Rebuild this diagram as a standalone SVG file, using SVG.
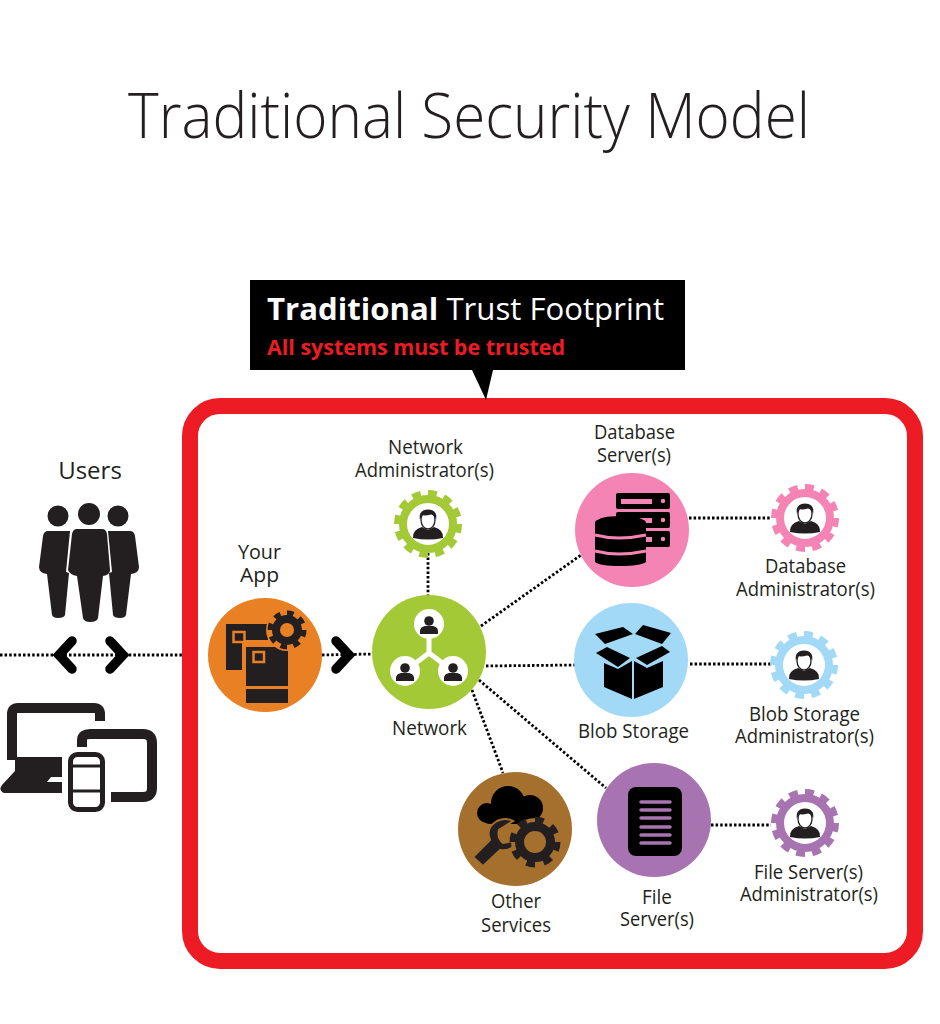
<svg xmlns="http://www.w3.org/2000/svg" width="940" height="1024" viewBox="0 0 940 1024">
<style>
text{font-family:"Open Sans","Noto Sans","Liberation Sans",sans-serif;fill:#231f20}
.l{font-size:20px;text-anchor:middle}
.c{fill:none;stroke:#000;stroke-width:2.800;stroke-dasharray:2.500 2.100}
.ch{fill:none;stroke:#000;stroke-width:9.500;stroke-linecap:round;stroke-linejoin:miter}
.k{fill:#231f20}
.b{fill:#000}
</style>
<defs>
<g id="gear"><circle r="25" fill="#fff" stroke="currentColor" stroke-width="8"/><circle r="31" fill="none" stroke="currentColor" stroke-width="6" pathLength="120" stroke-dasharray="5.500 4.500"/></g>
<g id="admin"><path class="k" d="M-15,14Q-16,6-6,3L0,6L6,3Q16,6 15,14Q0,17-15,14Z"/><ellipse cy="-4" rx="7" ry="9" fill="#fff" stroke="#231f20" stroke-width="1.300"/><path class="k" d="M-8,-4Q-10,-14 0,-14.500Q10,-14 8,-4Q7,-9 3,-9.500Q-3,-8-6,-9Q-7,-7-8,-4Z"/></g>
<g id="mini"><circle cy="-5" r="4.800" class="k"/><path class="k" d="M-9,8V5Q-9,1-4,0H4Q9,1 9,5V8Z"/></g>
<g id="bk"><circle r="11" fill="none" stroke="currentColor" stroke-width="8"/><circle r="17" fill="none" stroke="currentColor" stroke-width="5" pathLength="80" stroke-dasharray="5 5"/></g>
</defs>
<text id="title" x="469" y="138" font-size="62" font-weight="300" text-anchor="middle" textLength="682" lengthAdjust="spacingAndGlyphs">Traditional Security Model</text>
<g id="trust-boundary"><rect x="190" y="406" width="725" height="555" rx="30" fill="#fff" stroke="#ed1c24" stroke-width="16"/></g>
<g id="callout"><path d="M250,280H685V370H493L486,400L472,370H250Z" fill="#000"/>
<text x="267" y="320" font-size="31" style="fill:#fff" textLength="397" lengthAdjust="spacingAndGlyphs"><tspan font-weight="700" style="fill:#fff">Traditional</tspan> Trust Footprint</text>
<text x="267" y="355" font-size="22" font-weight="700" style="fill:#ed1c24" textLength="298" lengthAdjust="spacingAndGlyphs">All systems must be trusted</text></g>
<g id="connectors">
<path class="c" d="M0,655H182"/><path class="c" d="M322,655L372,654"/><path class="c" d="M428,553V596"/><path class="c" d="M481,626L581,555"/><path class="c" d="M486,666L575,665"/><path class="c" d="M479,680L606,788"/><path class="c" d="M472,690L503,773"/><path class="c" d="M689,518H771"/><path class="c" d="M690,664H771"/><path class="c" d="M711,825H771"/>
</g>
<g id="users"><text class="l" x="90" y="479" style="font-size:24px">Users</text>
<circle class="k" cx="58" cy="516" r="10.500"/><circle class="k" cx="89" cy="514" r="11"/><circle class="k" cx="118" cy="516" r="10.500"/>
<path class="k" d="M48,531H70L66,572L69,573L65,615Q64,618 58,618Q53,618 52,615L47,574Q39,573 39,567L43,536Q44,531 48,531Z"/>
<path class="k" d="M130,531H108L112,572L109,573L113,615Q114,618 120,618Q125,618 126,615L131,574Q139,573 139,567L135,536Q134,531 130,531Z"/>
<path class="k" d="M77,529H102Q106,529 107,534L110,570Q110,575 103,576L98,618Q97,622 90,622Q84,622 83,618L77,576Q70,575 68,570L72,534Q73,529 77,529Z"/>
<path class="ch" d="M72,641L59,655L72,669"/><path class="ch" d="M110,641L123,655L110,669"/></g>
<g id="devices">
<path d="M100,721V714Q100,708 94,708H18Q12,708 12,714V760" fill="none" stroke="#231f20" stroke-width="10"/>
<path class="k" d="M15,757H62V777H51L47,782H62V793H4Q-2,790 2,785L15,771Z"/>
<path d="M82,747V740Q82,734 90,734H143Q152,734 152,743V788Q152,797 143,797H111" fill="none" stroke="#231f20" stroke-width="10"/>
<rect x="70.500" y="754.500" width="32" height="55" rx="7" fill="#fff" stroke="#231f20" stroke-width="5"/><path d="M71,766H102M71,791H102" stroke="#231f20" stroke-width="3"/>
</g>
<g id="your-app"><text class="l" x="259.500" y="559" textLength="43" lengthAdjust="spacingAndGlyphs">Your</text><text class="l" x="259.500" y="582" textLength="39" lengthAdjust="spacingAndGlyphs">App</text><circle cx="265" cy="655" r="57" fill="#e98024"/>
<path class="k" d="M226,624H268V640H242V670H226Z"/><rect class="k" x="246" y="647" width="42" height="39"/><rect class="k" x="246" y="689" width="42" height="14"/>
<rect x="233.500" y="632" width="11" height="10" fill="#231f20" stroke="#e98024" stroke-width="2.500"/><rect x="253.500" y="652" width="10.500" height="10" fill="#231f20" stroke="#e98024" stroke-width="2.500"/>
<circle cx="287" cy="630" r="21" fill="#e98024"/><use href="#bk" x="287" y="630" style="color:#231f20"/>
<path class="ch" d="M336,641L349,655L336,669"/></g>
<g id="network"><circle cx="429" cy="652" r="57" fill="#a3c937"/><path d="M429,624V653L405,671M429,653L453,671" fill="none" stroke="#fff" stroke-width="5"/><circle cx="429" cy="624" r="15" fill="#fff"/><circle cx="405" cy="671" r="15" fill="#fff"/><circle cx="453" cy="671" r="15" fill="#fff"/><use href="#mini" x="429" y="626"/><use href="#mini" x="405" y="673"/><use href="#mini" x="453" y="673"/><text class="l" x="429.500" y="735" textLength="75" lengthAdjust="spacingAndGlyphs">Network</text></g>
<g id="network-admin"><text class="l" x="425.500" y="454" textLength="75" lengthAdjust="spacingAndGlyphs">Network</text><text class="l" x="424.500" y="477" textLength="139" lengthAdjust="spacingAndGlyphs">Administrator(s)</text><use href="#gear" x="428" y="524" style="color:#a3c937"/><use href="#admin" x="428" y="524"/></g>
<g id="database-server"><text class="l" x="634.500" y="439" textLength="81" lengthAdjust="spacingAndGlyphs">Database</text><text class="l" x="634" y="462" textLength="74" lengthAdjust="spacingAndGlyphs">Server(s)</text><circle cx="632" cy="530" r="57" fill="#f384b4"/>
<g fill="#000"><rect x="616" y="493" width="54" height="16" rx="2"/><rect x="616" y="512" width="54" height="16" rx="2"/><rect x="616" y="531" width="54" height="16" rx="2"/></g>
<g fill="#f384b4"><rect x="621" y="499" width="31" height="5"/><rect x="621" y="518" width="31" height="5"/><rect x="621" y="537" width="31" height="5"/><circle cx="663" cy="501" r="2.200"/><circle cx="663" cy="520" r="2.200"/><circle cx="663" cy="539" r="2.200"/></g>
<path d="M595,522Q600,516 620,516Q641,516 646,522V562Q640,566 620,566Q600,566 595,562Z" fill="#000"/><path d="M595,535Q618,541 646,535M595,551Q618,557 646,551" fill="none" stroke="#f384b4" stroke-width="3"/></g>
<g id="blob-storage"><circle cx="631" cy="660" r="57" fill="#a1d9f6"/><g class="b"><path d="M595,634L623,627L633,634L605,644Z"/><path d="M635,634L643,625L671,633L662,644Z"/><path d="M596,653L607,647L630,658L618,667Z"/><path d="M636,658L662,646L670,652L647,665Z"/><path d="M604,663L618,669L632,661V699L604,687Z"/><path d="M634,661L647,668L663,661V687L634,699Z"/></g><text class="l" x="633.500" y="738" textLength="111" lengthAdjust="spacingAndGlyphs">Blob Storage</text></g>
<g id="other-services"><circle cx="515" cy="829" r="57" fill="#a56f2d"/>
<g class="b"><circle cx="508" cy="803" r="17"/><circle cx="487" cy="813" r="10"/><circle cx="530" cy="808" r="13"/><rect x="482" y="806" width="55" height="18" rx="8"/></g>
<path d="M473,857L490,840Q485,828 497,821Q505,817 513,821L499,830Q497,838 503,843L519,840Q512,852 500,850L483,866Z" class="k" stroke="#a56f2d" stroke-width="2"/>
<circle cx="535" cy="842" r="24" fill="#a56f2d"/><circle cx="535" cy="842" r="15.500" fill="none" stroke="#231f20" stroke-width="9"/><circle cx="535" cy="842" r="22.500" fill="none" stroke="#231f20" stroke-width="6" pathLength="80" stroke-dasharray="5 5"/>
<text class="l" x="516" y="908" textLength="50" lengthAdjust="spacingAndGlyphs">Other</text><text class="l" x="516" y="932" textLength="70" lengthAdjust="spacingAndGlyphs">Services</text></g>
<g id="file-server"><circle cx="654" cy="820" r="57" fill="#a873b1"/><rect x="628" y="787" width="54" height="69" rx="8" fill="#000"/><path d="M641,802H670M641,810H670M641,818H670M641,827H670M641,835H670M641,843H670" stroke="#a873b1" stroke-width="3.500" stroke-linecap="round"/><text class="l" x="657" y="904" textLength="30" lengthAdjust="spacingAndGlyphs">File</text><text class="l" x="657" y="926" textLength="74" lengthAdjust="spacingAndGlyphs">Server(s)</text></g>
<g id="database-admin"><use href="#gear" x="805" y="518" style="color:#f384b4"/><use href="#admin" x="805" y="518"/><text class="l" x="805.500" y="573" textLength="81" lengthAdjust="spacingAndGlyphs">Database</text><text class="l" x="805.500" y="596" textLength="139" lengthAdjust="spacingAndGlyphs">Administrator(s)</text></g>
<g id="blob-admin"><use href="#gear" x="804" y="665" style="color:#a1d9f6"/><use href="#admin" x="804" y="665"/><text class="l" x="804.500" y="721" textLength="111" lengthAdjust="spacingAndGlyphs">Blob Storage</text><text class="l" x="804.500" y="743" textLength="139" lengthAdjust="spacingAndGlyphs">Administrator(s)</text></g>
<g id="file-admin"><use href="#gear" x="805" y="823" style="color:#a873b1"/><use href="#admin" x="805" y="823"/><text class="l" x="808.500" y="879" textLength="109" lengthAdjust="spacingAndGlyphs">File Server(s)</text><text class="l" x="809" y="901" textLength="138" lengthAdjust="spacingAndGlyphs">Administrator(s)</text></g>
</svg>
